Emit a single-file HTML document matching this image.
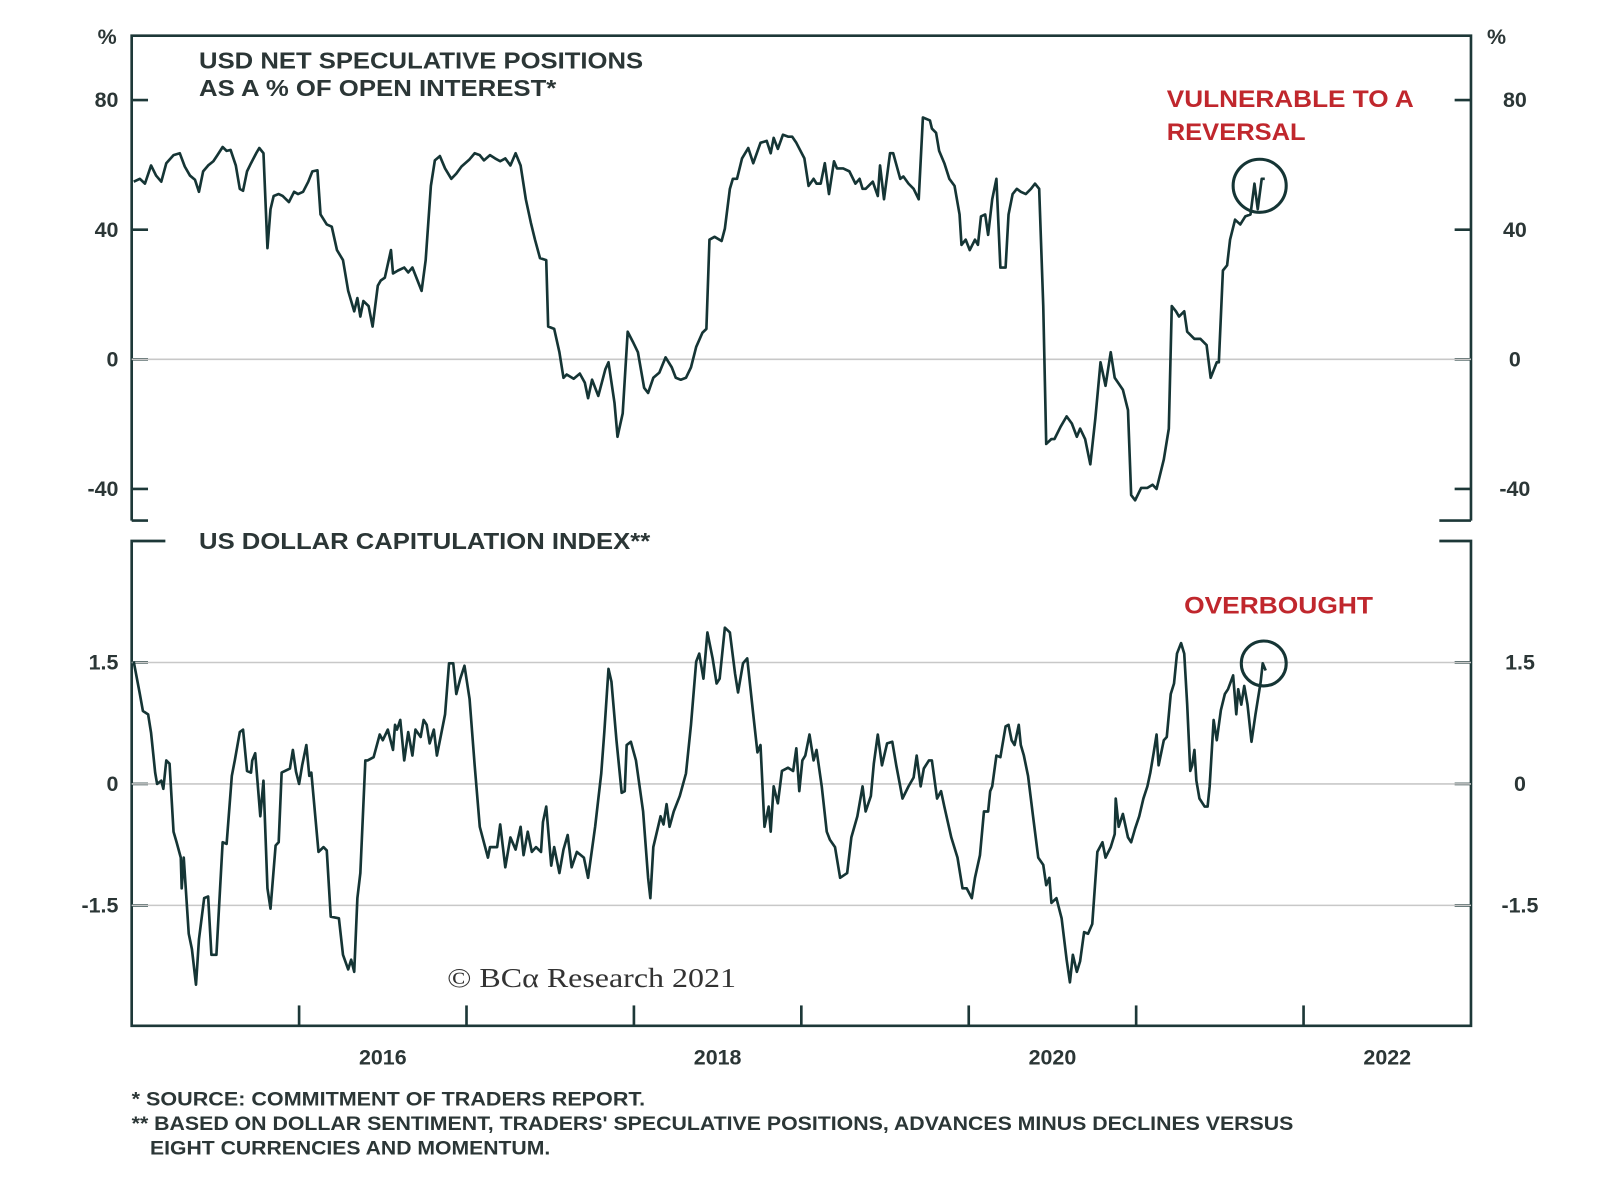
<!DOCTYPE html>
<html>
<head>
<meta charset="utf-8">
<style>
html,body{margin:0;padding:0;background:#fff;}
svg{display:block;}
text{font-family:"Liberation Sans Narrow","Liberation Sans",sans-serif;font-weight:bold;fill:#2b3636;}
</style>
</head>
<body>
<svg id="chart" width="1600" height="1191" viewBox="0 0 1567.4 1166.8" preserveAspectRatio="none" xmlns="http://www.w3.org/2000/svg">
  <g id="frame"></g>
  <g id="grid"></g>
  <g id="series"></g>
  <g id="labels"></g>

  <text x="105" y="43" font-size="21" text-anchor="middle">%</text>
  <text x="1466" y="43" font-size="21" text-anchor="middle">%</text>
  <text x="195" y="67" font-size="23" textLength="435" lengthAdjust="spacingAndGlyphs">USD NET SPECULATIVE POSITIONS</text>
  <text x="195" y="94" font-size="23" textLength="350" lengthAdjust="spacingAndGlyphs">AS A % OF OPEN INTEREST*</text>
  <text x="1143" y="105" font-size="24" style="fill:#c0272d" textLength="242" lengthAdjust="spacingAndGlyphs">VULNERABLE TO A</text>
  <text x="1143" y="137" font-size="24" style="fill:#c0272d" textLength="136" lengthAdjust="spacingAndGlyphs">REVERSAL</text>
  <circle cx="1234" cy="182" r="26" fill="none" stroke="#153535" stroke-width="3"/>

  <text x="195" y="538" font-size="23" textLength="442" lengthAdjust="spacingAndGlyphs">US DOLLAR CAPITULATION INDEX**</text>
  <text x="1160" y="601" font-size="24" style="fill:#c0272d" textLength="185" lengthAdjust="spacingAndGlyphs">OVERBOUGHT</text>
  <circle cx="1238" cy="650" r="22" fill="none" stroke="#153535" stroke-width="3"/>

  <text x="438" y="967" font-size="27" style="font-family:'Liberation Serif',serif;font-weight:normal;fill:#333" textLength="283" lengthAdjust="spacingAndGlyphs">© BCα Research 2021</text>

  <text x="129" y="1083" font-size="19" textLength="503" lengthAdjust="spacingAndGlyphs">*  SOURCE: COMMITMENT OF TRADERS REPORT.</text>
  <text x="129" y="1107" font-size="19" textLength="1138" lengthAdjust="spacingAndGlyphs">** BASED ON DOLLAR SENTIMENT, TRADERS' SPECULATIVE POSITIONS, ADVANCES MINUS DECLINES VERSUS</text>
  <text x="147" y="1131" font-size="19" textLength="392" lengthAdjust="spacingAndGlyphs">EIGHT CURRENCIES AND MOMENTUM.</text>
</svg>
<script>
// ---- data (years since 2015-01-01) ----
const topYears = [0.012,0.049,0.079,0.116,0.146,0.177,0.207,0.25,0.287,0.317,0.348,0.378,0.402,0.427,0.457,0.488,0.512,0.543,0.567,0.591,0.622,0.646,0.665,0.689,0.713,0.744,0.762,0.787,0.811,0.829,0.848,0.878,0.902,0.939,0.97,0.994,1.024,1.055,1.079,1.11,1.128,1.165,1.195,1.226,1.262,1.293,1.329,1.348,1.366,1.384,1.415,1.439,1.47,1.488,1.512,1.549,1.561,1.591,1.628,1.652,1.677,1.732,1.756,1.787,1.811,1.841,1.872,1.909,1.939,1.970,2.018,2.049,2.079,2.104,2.140,2.171,2.201,2.232,2.262,2.293,2.323,2.354,2.384,2.409,2.439,2.476,2.488,2.524,2.555,2.579,2.598,2.640,2.677,2.707,2.726,2.750,2.787,2.829,2.848,2.884,2.902,2.933,2.963,2.994,3.024,3.061,3.085,3.116,3.152,3.189,3.226,3.250,3.280,3.311,3.341,3.372,3.409,3.433,3.451,3.482,3.524,3.543,3.573,3.591,3.616,3.646,3.683,3.713,3.756,3.793,3.817,3.835,3.860,3.890,3.921,3.945,3.970,4.018,4.043,4.073,4.091,4.116,4.140,4.165,4.195,4.213,4.250,4.287,4.323,4.348,4.366,4.384,4.427,4.457,4.470,4.494,4.530,4.549,4.591,4.610,4.640,4.671,4.701,4.726,4.768,4.780,4.805,4.823,4.854,4.884,4.915,4.945,4.957,4.982,5.006,5.037,5.055,5.073,5.098,5.116,5.140,5.165,5.189,5.220,5.238,5.262,5.287,5.311,5.341,5.372,5.396,5.421,5.445,5.463,5.494,5.512,5.549,5.585,5.616,5.646,5.665,5.695,5.726,5.756,5.787,5.817,5.848,5.872,5.921,5.951,5.970,5.994,6.030,6.067,6.098,6.122,6.165,6.195,6.213,6.238,6.256,6.287,6.305,6.348,6.384,6.421,6.445,6.482,6.494,6.518,6.543,6.561,6.591,6.622,6.652,6.683,6.707,6.726,6.750,6.768];
const topValues = [54.8,55.7,54.2,59.8,56.7,54.8,60.5,63,63.6,59.5,56.7,55.4,51.7,58,59.8,61.1,63,65.5,64.3,64.6,59.8,52.6,52,58,60.5,63.6,65.2,63.6,34.3,46.3,50.4,51,50.4,48.5,51.7,51,51.7,54.8,58,58.3,44.7,41.6,40.9,33.7,30.6,21.1,14.8,18.9,13.2,18,16.4,10.1,22.7,24.3,25.2,33.7,26.5,27.4,28.3,26.8,28.3,21.1,30.6,53.5,61.4,62.7,58.9,55.7,57.3,59.5,61.7,63.6,63,61.4,63,62,61.1,62,59.8,63.6,59.8,49.4,42.2,36.9,31.2,30.6,10.1,9.4,2.2,-5.7,-4.7,-6,-4.4,-7.2,-12,-6.3,-11.3,-3.1,-0.9,-13.5,-23.9,-16.7,8.5,5.4,2.2,-8.8,-10.4,-5.7,-4.1,0.6,-2.5,-5.7,-6.3,-5.7,-2.5,3.8,8.2,9.4,36.9,37.8,36.5,40.3,52.6,55.7,55.7,62,65.2,60.5,66.8,67.4,63.6,68.3,64.9,69.3,68.7,68.7,66.8,62,53.5,55.7,54.2,54.2,60.5,51,61.1,58.9,58.9,58,54.2,55.7,52.6,52.6,54.8,50.4,59.8,49.4,63.6,63.6,55.7,56.4,54.2,52.6,49.4,74.6,73.7,71.2,69.9,64.3,60.5,55.7,53.5,44.7,35.3,36.9,33.7,36.9,35.3,44.1,44.7,38.4,49.4,55.7,28.3,28.3,44.7,51,52.6,51.7,51,52.6,54.2,52.6,16.4,-26.1,-24.6,-24.6,-20.8,-17.6,-19.8,-23.9,-21.4,-24.6,-32.4,-18.3,-0.9,-8.2,2.2,-5.7,-9.4,-15.7,-41.9,-43.5,-39.7,-39.7,-38.7,-40,-30.9,-21.4,16.4,14.8,13.2,14.8,8.5,6.3,6.3,4.4,-5.7,-0.9,-0.9,27.4,29,36.9,43.1,41.6,44.1,44.7,54.2,46.3,55.7,55.7];

const bottomYears = [0.012,0.049,0.067,0.098,0.116,0.140,0.152,0.177,0.189,0.207,0.226,0.250,0.268,0.293,0.299,0.311,0.341,0.360,0.384,0.402,0.433,0.457,0.476,0.506,0.543,0.567,0.598,0.616,0.646,0.665,0.689,0.713,0.720,0.738,0.768,0.787,0.811,0.829,0.860,0.878,0.896,0.945,0.963,0.982,1.0,1.018,1.043,1.061,1.073,1.116,1.146,1.165,1.189,1.238,1.262,1.293,1.311,1.329,1.348,1.366,1.396,1.409,1.445,1.482,1.5,1.530,1.561,1.573,1.585,1.604,1.628,1.652,1.677,1.695,1.726,1.744,1.762,1.780,1.805,1.823,1.848,1.872,1.896,1.921,1.939,1.963,1.988,2.018,2.049,2.079,2.128,2.140,2.183,2.201,2.232,2.262,2.293,2.323,2.341,2.366,2.390,2.415,2.445,2.457,2.476,2.506,2.524,2.555,2.579,2.604,2.628,2.659,2.701,2.726,2.768,2.805,2.823,2.848,2.866,2.896,2.927,2.945,2.957,2.982,3.012,3.055,3.085,3.098,3.116,3.159,3.177,3.195,3.213,3.238,3.274,3.311,3.341,3.372,3.390,3.415,3.439,3.470,3.494,3.512,3.543,3.573,3.604,3.622,3.652,3.677,3.713,3.738,3.756,3.780,3.805,3.817,3.835,3.860,3.884,3.921,3.951,3.970,3.988,4.006,4.024,4.049,4.073,4.091,4.122,4.152,4.171,4.201,4.232,4.274,4.299,4.335,4.366,4.384,4.415,4.433,4.457,4.482,4.512,4.543,4.567,4.591,4.604,4.640,4.671,4.689,4.713,4.732,4.762,4.780,4.811,4.835,4.854,4.896,4.933,4.963,4.988,5.018,5.037,5.067,5.091,5.116,5.128,5.140,5.165,5.189,5.201,5.220,5.238,5.256,5.274,5.299,5.311,5.329,5.354,5.384,5.415,5.445,5.463,5.482,5.494,5.524,5.555,5.585,5.604,5.622,5.646,5.665,5.689,5.713,5.738,5.768,5.799,5.817,5.848,5.872,5.878,5.896,5.921,5.951,5.970,5.994,6.018,6.043,6.067,6.085,6.104,6.122,6.134,6.165,6.183,6.207,6.226,6.244,6.268,6.287,6.305,6.323,6.335,6.348,6.360,6.378,6.409,6.427,6.439,6.463,6.470,6.482,6.506,6.530,6.549,6.579,6.598,6.610,6.628,6.646,6.665,6.689,6.713,6.744,6.756,6.774];
const bottomValues = [1.51,1.11,0.90,0.86,0.63,0.14,0,0.04,-0.06,0.29,0.25,-0.59,-0.72,-0.91,-1.29,-0.91,-1.85,-2.04,-2.48,-1.92,-1.41,-1.39,-2.11,-2.11,-0.72,-0.74,0.10,0.29,0.64,0.67,0.16,0.14,0.29,0.38,-0.40,0.04,-1.29,-1.54,-0.76,-0.72,0.14,0.19,0.42,0.15,0,0.23,0.48,0.10,0.14,-0.84,-0.78,-0.82,-1.64,-1.66,-2.11,-2.29,-2.17,-2.32,-1.41,-1.10,0.29,0.29,0.33,0.61,0.54,0.67,0.42,0.73,0.67,0.79,0.29,0.64,0.35,0.67,0.58,0.79,0.73,0.50,0.67,0.35,0.61,0.86,1.49,1.49,1.11,1.30,1.46,1.05,0.23,-0.53,-0.91,-0.78,-0.78,-0.50,-1.03,-0.66,-0.81,-0.53,-0.88,-0.59,-0.84,-0.78,-0.84,-0.47,-0.28,-1.01,-0.78,-1.10,-0.81,-0.63,-1.03,-0.84,-0.91,-1.16,-0.53,0.13,0.64,1.42,1.26,0.54,-0.11,-0.09,0.48,0.52,0.29,-0.34,-1.16,-1.41,-0.78,-0.40,-0.50,-0.25,-0.53,-0.34,-0.15,0.13,0.73,1.51,1.61,1.30,1.87,1.55,1.24,1.30,1.93,1.87,1.36,1.13,1.49,1.55,0.86,0.39,0.48,-0.53,-0.28,-0.59,-0.03,-0.24,0.16,0.20,0.16,0.44,-0.09,0.29,0.35,0.61,0.29,0.42,-0.03,-0.59,-0.69,-0.78,-1.16,-1.10,-0.66,-0.40,-0.03,-0.34,-0.15,0.25,0.61,0.23,0.50,0.52,0.23,-0.03,-0.18,-0.03,0.08,0.35,-0.03,0.19,0.29,0.29,-0.18,-0.09,-0.28,-0.66,-0.91,-1.29,-1.29,-1.41,-1.16,-0.88,-0.34,-0.34,-0.09,-0.03,0.35,0.33,0.48,0.71,0.73,0.54,0.48,0.73,0.48,0.35,0.10,-0.40,-0.91,-1.00,-1.25,-1.16,-1.47,-1.41,-1.66,-2.17,-2.45,-2.11,-2.32,-2.19,-1.83,-1.85,-1.73,-0.84,-0.72,-0.91,-0.78,-0.62,-0.18,-0.53,-0.37,-0.66,-0.72,-0.55,-0.40,-0.18,-0.03,0.14,0.38,0.61,0.23,0.54,0.58,1.11,1.24,1.61,1.74,1.61,0.98,0.16,0.23,0.42,0.04,-0.18,-0.28,-0.28,-0.03,0.79,0.69,0.54,0.91,1.11,1.17,1.34,0.86,1.17,0.98,1.21,0.98,0.52,0.86,1.26,1.49,1.40];

const topTicks = [80, 40, 0, -40];
const topTickLabels = ["80", "40", "0", "-40"];
const bottomTicks = [1.5, 0, -1.5];
const bottomTickLabels = ["1.5", "0", "-1.5"];
const yearTicks = [1, 2, 3, 4, 5, 6, 7];
const yearLabels = ["2016", "2018", "2020", "2022"];
const yearLabelPositions = [1.5, 3.5, 5.5, 7.5];

// ---- scales ----
const X0 = 129, X1 = 1441, PX_PER_YEAR = 164;
const xScale = t => X0 + t * PX_PER_YEAR;
const yTop = v => 352 - v * (127 / 40);
const yBottom = v => 768 - v * (119 / 1.5);

const NS = "http://www.w3.org/2000/svg";
function mk(tag, attrs, parent) {
  const el = document.createElementNS(NS, tag);
  for (const k in attrs) el.setAttribute(k, attrs[k]);
  parent.appendChild(el);
  return el;
}
const frame = document.getElementById('frame');
const grid = document.getElementById('grid');
const series = document.getElementById('series');
const labels = document.getElementById('labels');
const AX = {stroke: '#1d3838', 'stroke-width': 2.6, fill: 'none'};

let e;
e = mk('path', Object.assign({d: `M${X0},510 L${X0},35 L${X1},35 L${X1},510 M${X0},510 L${X0+16},510 M${X1-31},510 L${X1},510`}, AX), frame);


e = mk('path', Object.assign({d: `M${X0+33},530 L${X0},530 L${X0},1005 L${X1},1005 L${X1},530 L${X1-31},530`}, AX), frame);



topTicks.forEach((v, i) => {
  const y = yTop(v);
  if (v === 0) {
    const g = mk('line', {x1: X0, x2: X1, y1: y, y2: y, stroke: '#c8c8c8', 'stroke-width': 1.5}, grid);
    
    
  }
  const t1 = mk('line', Object.assign({x1: X0, x2: X0 + 16, y1: y, y2: y}, AX), frame);
  
  
  const t2 = mk('line', Object.assign({x1: X1 - 16, x2: X1, y1: y, y2: y}, AX), frame);
  
  
  const l = mk('text', {x: 116, y: y + 7, 'font-size': 21, 'text-anchor': 'end'}, labels);
  l.textContent = topTickLabels[i];
  
  
  const r = mk('text', {x: 1484, y: y + 7, 'font-size': 21, 'text-anchor': 'middle'}, labels);
  r.textContent = topTickLabels[i];
  
  
});

bottomTicks.forEach((v, i) => {
  const y = yBottom(v);
  const g = mk('line', {x1: X0, x2: X1, y1: y, y2: y, stroke: '#c8c8c8', 'stroke-width': 1.5}, grid);
  
  
  const t1 = mk('line', Object.assign({x1: X0, x2: X0 + 16, y1: y, y2: y}, AX), frame);
  
  
  const t2 = mk('line', Object.assign({x1: X1 - 16, x2: X1, y1: y, y2: y}, AX), frame);
  
  
  const l = mk('text', {x: 116, y: y + 7, 'font-size': 21, 'text-anchor': 'end'}, labels);
  l.textContent = bottomTickLabels[i];
  
  
  const r = mk('text', {x: 1489, y: y + 7, 'font-size': 21, 'text-anchor': 'middle'}, labels);
  r.textContent = bottomTickLabels[i];
  
  
});

yearTicks.forEach(t => {
  const x = xScale(t);
  const tk = mk('line', Object.assign({x1: x, x2: x, y1: 985, y2: 1005}, AX), frame);
  
  
});
yearLabels.forEach((s, i) => {
  const l = mk('text', {x: xScale(yearLabelPositions[i]), y: 1043, 'font-size': 21, 'text-anchor': 'middle'}, labels);
  l.textContent = s;
  
  
});

function pathFrom(xs, ys, yf) {
  return xs.map((t, i) => (i ? 'L' : 'M') + xScale(t).toFixed(1) + ',' + yf(ys[i]).toFixed(1)).join(' ');
}
const p1 = mk('path', {d: pathFrom(topYears, topValues, yTop), fill: 'none', stroke: '#153535', 'stroke-width': 2.6, 'stroke-linejoin': 'round'}, series);


const p2 = mk('path', {d: pathFrom(bottomYears, bottomValues, yBottom), fill: 'none', stroke: '#153535', 'stroke-width': 2.6, 'stroke-linejoin': 'round'}, series);


</script>
</body>
</html>
